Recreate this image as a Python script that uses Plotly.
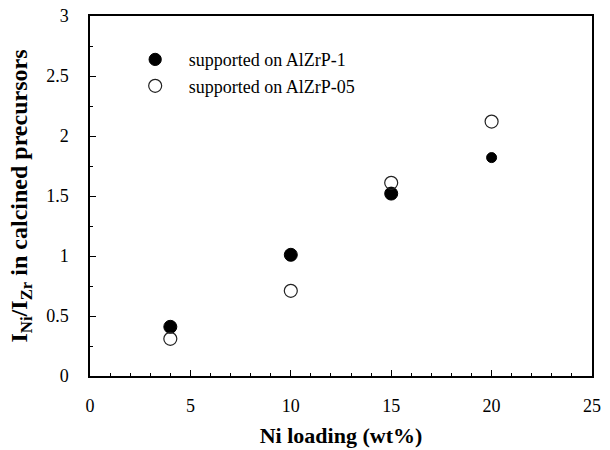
import plotly.graph_objects as go

x_load = [4, 10, 15, 20]
alzrp1 = [0.41, 1.01, 1.52, 1.82]
alzrp05 = [0.31, 0.71, 1.61, 2.12]
size1 = [13, 13, 13, 10]
size05 = [13, 13, 13, 13]

font_family = "Liberation Serif"
NB = "\u00a0"

fig = go.Figure()
fig.add_trace(go.Scatter(
    x=x_load, y=alzrp1, mode="markers", name=NB * 3 + "supported on AlZrP-1",
    opacity=1,
    marker=dict(symbol="circle", size=size1, color="black", opacity=1,
                line=dict(color="black", width=1)),
))
fig.add_trace(go.Scatter(
    x=x_load, y=alzrp05, mode="markers", name=NB * 3 + "supported on AlZrP-05",
    opacity=1,
    marker=dict(symbol="circle-open", size=size05, color="#222", opacity=1,
                line=dict(color="#222", width=1.2)),
))

axis_common = dict(
    showline=True, linecolor="black", linewidth=1.5, mirror=True,
    ticks="inside", tickcolor="black", ticklen=6, tickwidth=1,
    showgrid=False, zeroline=False, automargin=False,
    tickfont=dict(family=font_family, size=18, color="black"),
)

fig.update_xaxes(
    range=[0, 25], tick0=0, dtick=5,
    minor=dict(ticks="inside", ticklen=3, tickcolor="black", dtick=1, showgrid=False),
    ticklabelstandoff=13,
    title=dict(text="<b>Ni loading (wt%)</b>",
               font=dict(family=font_family, size=22, color="black"), standoff=12),
    **axis_common,
)
fig.update_yaxes(
    range=[0, 3], tick0=0, dtick=0.5,
    minor=dict(ticks="inside", ticklen=3, tickcolor="black", dtick=0.25, showgrid=False),
    ticklabelstandoff=16,
    title=dict(text="<b>I<sub>Ni</sub>/I<sub>Zr</sub> in calcined precursors</b>",
               font=dict(family=font_family, size=24, color="black"), standoff=12),
    **axis_common,
)

fig.update_layout(
    width=610, height=450,
    margin=dict(l=90, r=18, t=16, b=74),
    paper_bgcolor="white", plot_bgcolor="white",
    showlegend=True,
    legend=dict(x=0.09, y=0.93, xanchor="left", yanchor="top",
                font=dict(family=font_family, size=18, color="black"),
                bgcolor="rgba(0,0,0,0)", tracegroupgap=0, itemsizing="trace"),
)

fig.write_html("out.html")
